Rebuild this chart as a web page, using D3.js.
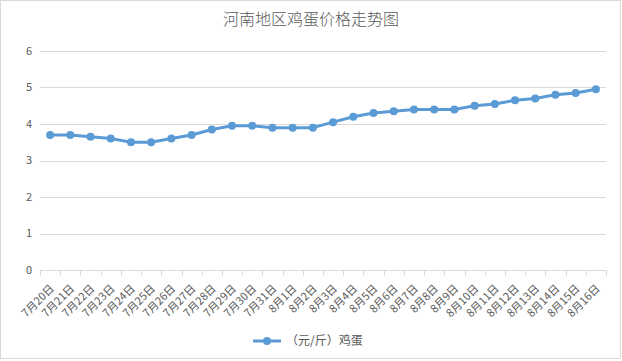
<!DOCTYPE html>
<html>
<head>
<meta charset="utf-8">
<script src="https://cdn.jsdelivr.net/npm/d3@7"></script>
<style>
  body { margin: 0; background: #fff; }
  #chart text { font-family: "Noto Sans CJK SC", "Noto Sans", sans-serif; }
</style>
</head>
<body>
<div id="chart"></div>
<script>
// Dates along the x axis
const dates = ["7月20日","7月21日","7月22日","7月23日","7月24日","7月25日","7月26日","7月27日",
  "7月28日","7月29日","7月30日","7月31日","8月1日","8月2日","8月3日","8月4日","8月5日","8月6日",
  "8月7日","8月8日","8月9日","8月10日","8月11日","8月12日","8月13日","8月14日","8月15日","8月16日"];

// Egg price (元/斤)
const prices = [3.7,3.7,3.65,3.6,3.5,3.5,3.6,3.7,3.85,3.95,3.95,3.9,3.9,3.9,4.05,4.2,4.3,4.35,
  4.4,4.4,4.4,4.5,4.55,4.65,4.7,4.8,4.85,4.95];

const yTicks = [0,1,2,3,4,5,6];
const title = "河南地区鸡蛋价格走势图";
const seriesName = "（元/斤）鸡蛋";

const W = 622, H = 361;
const margin = { top: 51, right: 16, bottom: 91, left: 40 },
      width = W - margin.left - margin.right,
      height = H - margin.top - margin.bottom;

const svg = d3.select("#chart").append("svg")
    .attr("width", W)
    .attr("height", H);

// Outer border
svg.append("rect")
    .attr("x", 0.5).attr("y", 0.5)
    .attr("width", W - 2).attr("height", H - 3)
    .attr("fill", "#fff")
    .attr("stroke", "#d9d9d9");

svg.append("text")
    .attr("x", W / 2).attr("y", 25)
    .attr("text-anchor", "middle")
    .attr("font-size", 16)
    .attr("font-weight", 300)
    .attr("fill", "#595959")
    .text(title);

const g = svg.append("g")
    .attr("transform", `translate(${margin.left},${margin.top})`);

const x = d3.scaleBand().domain(dates).range([0, width]);
const y = d3.scaleLinear().domain([0, 6]).range([height, 0]);

// Gridlines
g.append("g")
  .selectAll("line")
  .data(yTicks.filter(d => d > 0))
  .join("line")
    .attr("x1", 0).attr("x2", width)
    .attr("y1", d => Math.round(y(d)) + 0.5)
    .attr("y2", d => Math.round(y(d)) + 0.5)
    .attr("stroke", "#d9d9d9");

// Y axis labels
g.append("g")
  .selectAll("text")
  .data(yTicks)
  .join("text")
    .attr("x", -8)
    .attr("y", d => y(d))
    .attr("dy", "0.35em")
    .attr("text-anchor", "end")
    .attr("font-size", 11)
    .attr("fill", "#595959")
    .text(d => d);

// X axis with ticks at category boundaries
const xAxis = g.append("g").attr("transform", `translate(0,${Math.round(height) + 0.5})`);
xAxis.append("line")
    .attr("x1", 0).attr("x2", width)
    .attr("stroke", "#d9d9d9");
xAxis.selectAll("line.tick")
  .data(d3.range(dates.length + 1))
  .join("line")
    .attr("class", "tick")
    .attr("x1", i => Math.round(i * x.step()) + 0.5)
    .attr("x2", i => Math.round(i * x.step()) + 0.5)
    .attr("y1", 0).attr("y2", 5)
    .attr("stroke", "#d9d9d9");
xAxis.selectAll("text")
  .data(dates)
  .join("text")
    .attr("transform", d => `translate(${x(d) + x.bandwidth() / 2 + 2},${16}) rotate(-45)`)
    .attr("text-anchor", "end")
    .attr("dy", "0.35em")
    .attr("font-size", 11)
    .attr("fill", "#595959")
    .text(d => d);

// Line and markers
const cx = (d, i) => x(dates[i]) + x.bandwidth() / 2;
g.append("path")
    .datum(prices)
    .attr("fill", "none")
    .attr("stroke", "#5b9bd5")
    .attr("stroke-width", 3)
    .attr("stroke-linejoin", "round")
    .attr("d", d3.line().x(cx).y(d => y(d)));

g.append("g")
  .selectAll("circle")
  .data(prices)
  .join("circle")
    .attr("cx", cx)
    .attr("cy", d => y(d))
    .attr("r", 4)
    .attr("fill", "#5b9bd5");

// Legend
const lg = svg.append("g").attr("transform", "translate(253,341)");
lg.append("line").attr("x1", 0).attr("x2", 28).attr("stroke", "#5b9bd5").attr("stroke-width", 3);
lg.append("circle").attr("cx", 14).attr("r", 4).attr("fill", "#5b9bd5");
lg.append("text")
    .attr("x", 33).attr("dy", "0.35em")
    .attr("font-size", 12)
    .attr("fill", "#595959")
    .text(seriesName);
</script>
</body>
</html>
